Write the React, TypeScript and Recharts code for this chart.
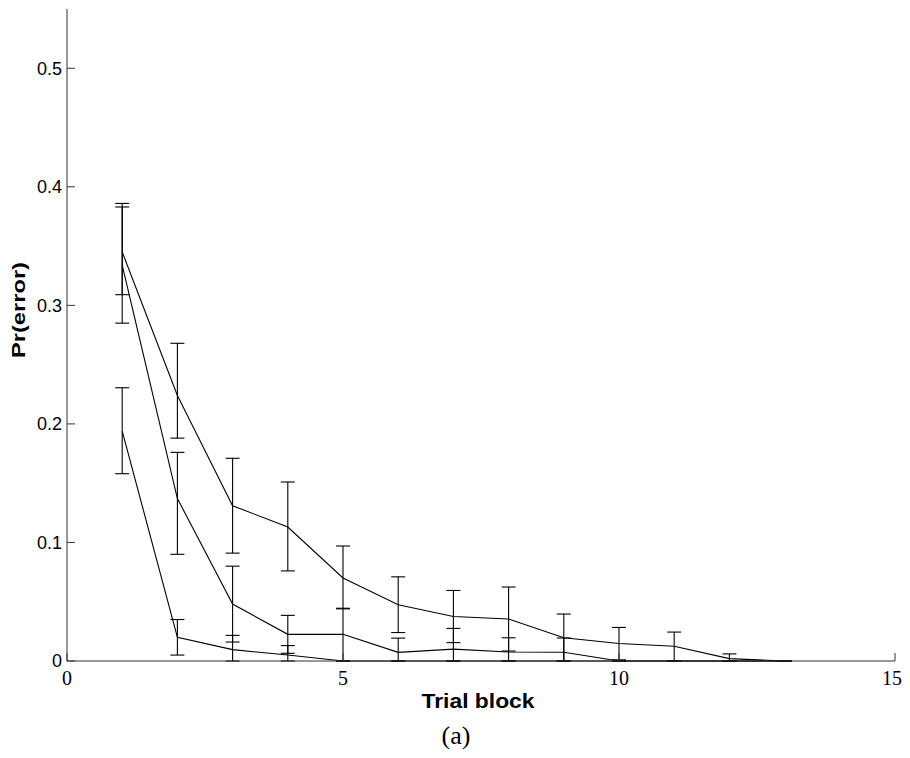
import React from 'react';
import { LineChart, Line, XAxis, YAxis, ErrorBar } from 'recharts';

const blocks = [1, 2, 3, 4, 5, 6, 7, 8, 9, 10, 11, 12, 13];

const aMean = [0.345, 0.224, 0.131, 0.113, 0.07, 0.0475, 0.0375, 0.0354, 0.0196, 0.0148, 0.0124, 0.002, 0];
const aLow = [0.036, 0.036, 0.04, 0.037, 0.026, 0.0235, 0.022, 0.027, 0.0196, 0.0138, 0.012, 0.002, 0];
const aHigh = [0.041, 0.044, 0.04, 0.038, 0.027, 0.0235, 0.022, 0.027, 0.02, 0.0135, 0.012, 0.004, 0];

const bMean = [0.334, 0.137, 0.048, 0.0225, 0.0225, 0.0073, 0.01, 0.0076, 0.0074, 0, 0, 0, 0];
const bLow = [0.049, 0.047, 0.032, 0.016, 0.0225, 0.0073, 0.01, 0.0076, 0.0074, 0, 0, 0, 0];
const bHigh = [0.049, 0.039, 0.032, 0.016, 0.022, 0.012, 0.0175, 0.012, 0.012, 0, 0, 0, 0];

const cMean = [0.194, 0.02, 0.0096, 0.005, 0, 0, 0, 0, 0, 0, 0, 0, 0];
const cLow = [0.036, 0.015, 0.0096, 0.005, 0, 0, 0, 0, 0, 0, 0, 0, 0];
const cHigh = [0.0365, 0.015, 0.012, 0.008, 0, 0, 0, 0, 0, 0, 0, 0, 0];

const xTicks = [0, 5, 10, 15];
const yTicks = [0, 0.1, 0.2, 0.3, 0.4, 0.5];

const xTitle = 'Trial block';
const yTitle = 'Pr(error)';
const caption = '(a)';

const data = blocks.map((b, i) => ({
  block: b,
  a: aMean[i],
  aErr: [aLow[i], aHigh[i]],
  b: bMean[i],
  bErr: [bLow[i], bHigh[i]],
  c: cMean[i],
  cErr: [cLow[i], cHigh[i]],
}));

const renderXLabel = (props: any) => {
  const vb = props.viewBox || {};
  const cx = vb.x + vb.width / 2;
  return (
    <g>
      <text
        x={cx - 3}
        y={vb.y + 47}
        textAnchor="middle"
        fontFamily="Liberation Sans"
        fontWeight="bold"
        fontSize={19.5}
        textLength={113}
        lengthAdjust="spacingAndGlyphs"
        fill="#000"
      >
        {xTitle}
      </text>
      <text
        x={cx - 25}
        y={vb.y + 83}
        textAnchor="middle"
        fontFamily="Liberation Serif"
        fontSize={26}
        fill="#000"
      >
        {caption}
      </text>
    </g>
  );
};

const renderYLabel = (props: any) => {
  const x = 17;
  const y = 302;
  return (
    <text
      x={x}
      y={y}
      transform={`rotate(-90 ${x} ${y})`}
      textAnchor="middle"
      fontFamily="Liberation Sans"
      fontWeight="bold"
      fontSize={17.5}
      textLength={96}
      lengthAdjust="spacingAndGlyphs"
      fill="#000"
    >
      {yTitle}
    </text>
  );
};

export default function App() {
  return (
    <div style={{ width: 894, height: 742 }}>
      <style>{`.recharts-surface{overflow:visible}`}</style>
      <LineChart
        width={894}
        height={742}
        data={data}
        margin={{ top: 1, right: 7, bottom: 0, left: 0 }}
      >
        <XAxis
          dataKey="block"
          type="number"
          domain={[0, 15]}
          ticks={xTicks}
          height={89}
          tickSize={-8}
          tickMargin={18}
          stroke="#333"
          tick={{ fontSize: 20, fontFamily: 'Liberation Sans Narrow', fill: '#000' }}
          label={renderXLabel}
        />
        <YAxis
          type="number"
          domain={[0, 0.55]}
          ticks={yTicks}
          width={59}
          tickSize={-8}
          tickMargin={13}
          stroke="#333"
          tick={{ fontSize: 18, fontFamily: 'Liberation Sans', fill: '#000' }}
          label={renderYLabel}
        />
        <Line type="linear" dataKey="a" stroke="#000" strokeWidth={1.1} dot={false} isAnimationActive={false}>
          <ErrorBar dataKey="aErr" width={7} stroke="#000" strokeWidth={1.1} direction="y" isAnimationActive={false} />
        </Line>
        <Line type="linear" dataKey="b" stroke="#000" strokeWidth={1.1} dot={false} isAnimationActive={false}>
          <ErrorBar dataKey="bErr" width={7} stroke="#000" strokeWidth={1.1} direction="y" isAnimationActive={false} />
        </Line>
        <Line type="linear" dataKey="c" stroke="#000" strokeWidth={1.1} dot={false} isAnimationActive={false}>
          <ErrorBar dataKey="cErr" width={7} stroke="#000" strokeWidth={1.1} direction="y" isAnimationActive={false} />
        </Line>
      </LineChart>
    </div>
  );
}
